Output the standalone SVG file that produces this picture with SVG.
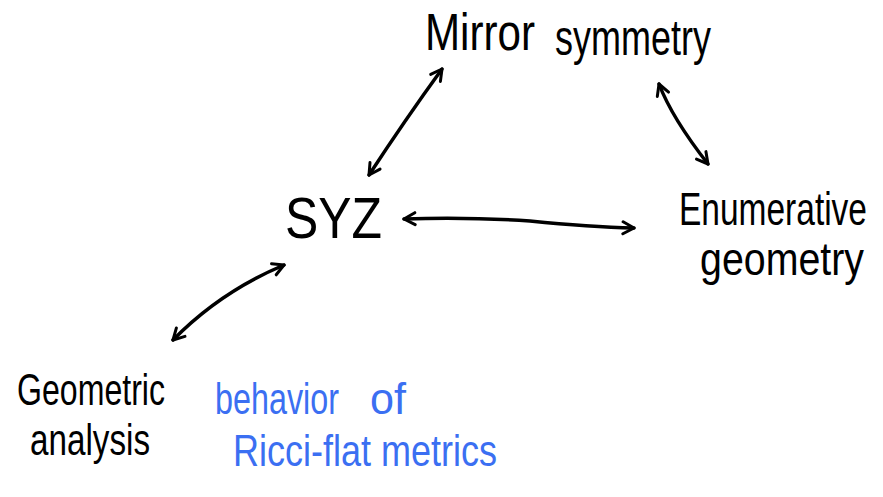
<svg xmlns="http://www.w3.org/2000/svg" width="883" height="497" viewBox="0 0 883 497">
  <defs>
    <style>
      .lbl { font-family: "Liberation Sans", "DejaVu Sans", sans-serif; fill: #000; }
      .note { font-family: "Liberation Sans", "DejaVu Sans", sans-serif; fill: #3b6ff2; }
      .link { fill: none; stroke: #000; stroke-width: 3.5; stroke-linecap: round; stroke-linejoin: round; }
    </style>
    <marker id="head" viewBox="0 0 16 16" refX="13" refY="8" markerWidth="16" markerHeight="16" markerUnits="userSpaceOnUse" orient="auto-start-reverse">
      <path d="M2,2 L13,8 L2,14" fill="none" stroke="#000" stroke-width="3" stroke-linecap="round" stroke-linejoin="round"/>
    </marker>
  </defs>
  <rect width="883" height="497" fill="#fff"/>

  <g id="connectors">
    <path class="link" d="M369,175 Q405,120 442,69" marker-start="url(#head)" marker-end="url(#head)"/>
    <path class="link" d="M659,84 Q672,118 708,164" marker-start="url(#head)" marker-end="url(#head)"/>
    <path class="link" d="M404,219 Q470,217 530,221 Q590,227 634,228" marker-start="url(#head)" marker-end="url(#head)"/>
    <path class="link" d="M173,340 Q220,292 284,265" marker-start="url(#head)" marker-end="url(#head)"/>
  </g>

  <g id="mirror-symmetry">
    <text class="lbl" x="425" y="50" font-size="52" textLength="110" lengthAdjust="spacingAndGlyphs">Mirror</text>
    <text class="lbl" x="555" y="55" font-size="50" textLength="156" lengthAdjust="spacingAndGlyphs">symmetry</text>
  </g>

  <g id="syz">
    <text class="lbl" x="285" y="238" font-size="58" textLength="97" lengthAdjust="spacingAndGlyphs">SYZ</text>
  </g>

  <g id="enumerative-geometry">
    <text class="lbl" x="679" y="225" font-size="47" textLength="188" lengthAdjust="spacingAndGlyphs">Enumerative</text>
    <text class="lbl" x="700" y="275" font-size="47" textLength="164" lengthAdjust="spacingAndGlyphs">geometry</text>
  </g>

  <g id="geometric-analysis">
    <text class="lbl" x="17" y="405" font-size="45" textLength="148" lengthAdjust="spacingAndGlyphs">Geometric</text>
    <text class="lbl" x="30" y="455" font-size="45" textLength="120" lengthAdjust="spacingAndGlyphs">analysis</text>
  </g>

  <g id="ricci-flat-note">
    <text class="note" x="215" y="414" font-size="44" textLength="124" lengthAdjust="spacingAndGlyphs">behavior</text>
    <text class="note" x="370" y="414" font-size="44" textLength="36" lengthAdjust="spacingAndGlyphs">of</text>
    <text class="note" x="233" y="466" font-size="44" textLength="264" lengthAdjust="spacingAndGlyphs">Ricci-flat metrics</text>
  </g>
</svg>
